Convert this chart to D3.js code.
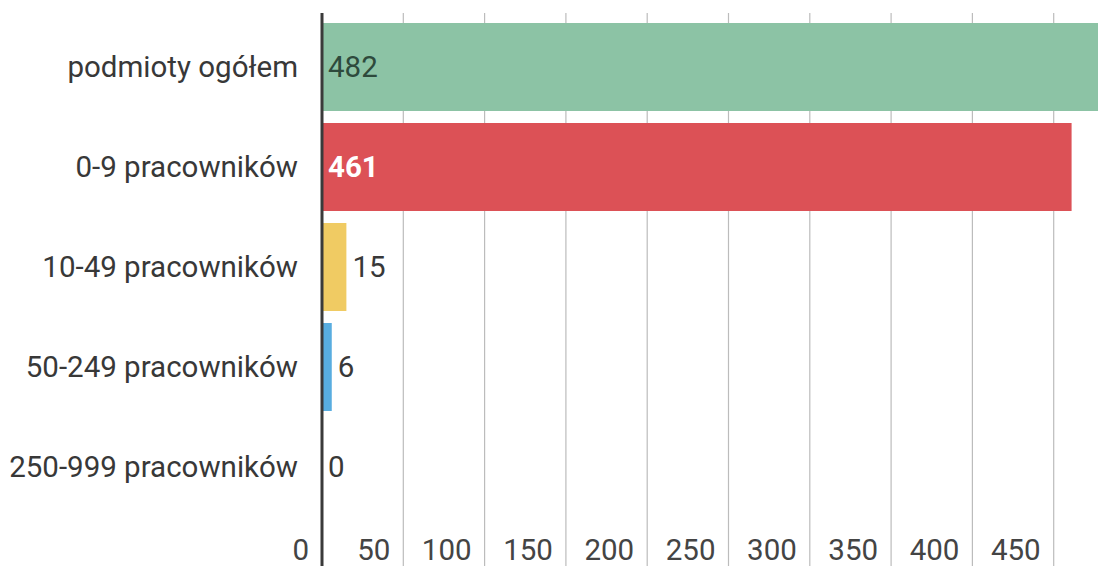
<!DOCTYPE html>
<html>
<head>
<meta charset="utf-8">
<script src="https://cdn.jsdelivr.net/npm/d3@7"></script>
<style>
  body { margin: 0; background: #fff; }
  svg { display: block; font-family: Roboto, "Noto Sans", sans-serif; }
</style>
</head>
<body>
<svg width="1098" height="566"></svg>
<script>
// data
const categories = ['podmioty ogółem', '0-9 pracowników', '10-49 pracowników', '50-249 pracowników', '250-999 pracowników']
const values = [482, 461, 15, 6, 0]
const ticks = [0, 50, 100, 150, 200, 250, 300, 350, 400, 450]

// styles
const barColors = ['#8cc3a5', '#dc5156', '#f0cb63', '#58ade0', '#58ade0']
const insideLabel = ['#2e4a3c', '#ffffff', '#333', '#333', '#333']
const insideWeight = ['normal', 'bold', 'normal', 'normal', 'normal']

const width = 1098, height = 566
const svg = d3.select('svg')

const x = d3.scaleLinear()
  .domain([0, 480])
  .range([322, 322 + 480 * 81.3 / 50])

const y = d3.scaleBand()
  .domain(categories)
  .range([17, 517])
  .paddingInner(0.12)
  .paddingOuter(0.06)

// grid
svg.append('g')
  .selectAll('line')
  .data(ticks.filter(t => t > 0))
  .enter()
  .append('line')
  .attr('x1', d => x(d)).attr('x2', d => x(d))
  .attr('y1', 13).attr('y2', height)
  .attr('stroke', '#bcbcbc')
  .attr('stroke-width', 1.2)

// tick labels
svg.append('g')
  .selectAll('text')
  .data(ticks)
  .enter()
  .append('text')
  .attr('x', d => x(d) - 13)
  .attr('y', 560)
  .attr('text-anchor', 'end')
  .attr('font-size', 29.5)
  .attr('fill', '#444')
  .text(d => d)

// bars
svg.append('g')
  .selectAll('rect')
  .data(values)
  .enter()
  .append('rect')
  .attr('x', x(0))
  .attr('y', (d, i) => y(categories[i]))
  .attr('width', d => x(d) - x(0))
  .attr('height', y.bandwidth())
  .attr('fill', (d, i) => barColors[i])

// category labels
svg.append('g')
  .selectAll('text')
  .data(categories)
  .enter()
  .append('text')
  .attr('x', 298)
  .attr('y', d => y(d) + y.bandwidth() / 2)
  .attr('dy', '0.35em')
  .attr('text-anchor', 'end')
  .attr('font-size', 29.5)
  .attr('fill', '#383838')
  .text(d => d)

// value labels: inside when the bar is wide enough
svg.append('g')
  .selectAll('text')
  .data(values)
  .enter()
  .append('text')
  .attr('x', d => (x(d) - x(0) > 60 ? x(0) + 6 : x(d) + 6))
  .attr('y', (d, i) => y(categories[i]) + y.bandwidth() / 2)
  .attr('dy', '0.35em')
  .attr('font-size', 29.5)
  .attr('font-weight', (d, i) => (x(d) - x(0) > 60 ? insideWeight[i] : 'normal'))
  .attr('fill', (d, i) => (x(d) - x(0) > 60 ? insideLabel[i] : '#383838'))
  .text(d => d)

// zero axis
svg.append('line')
  .attr('x1', x(0)).attr('x2', x(0))
  .attr('y1', 13).attr('y2', height)
  .attr('stroke', '#3a3a3a')
  .attr('stroke-width', 3)
</script>
</body>
</html>
